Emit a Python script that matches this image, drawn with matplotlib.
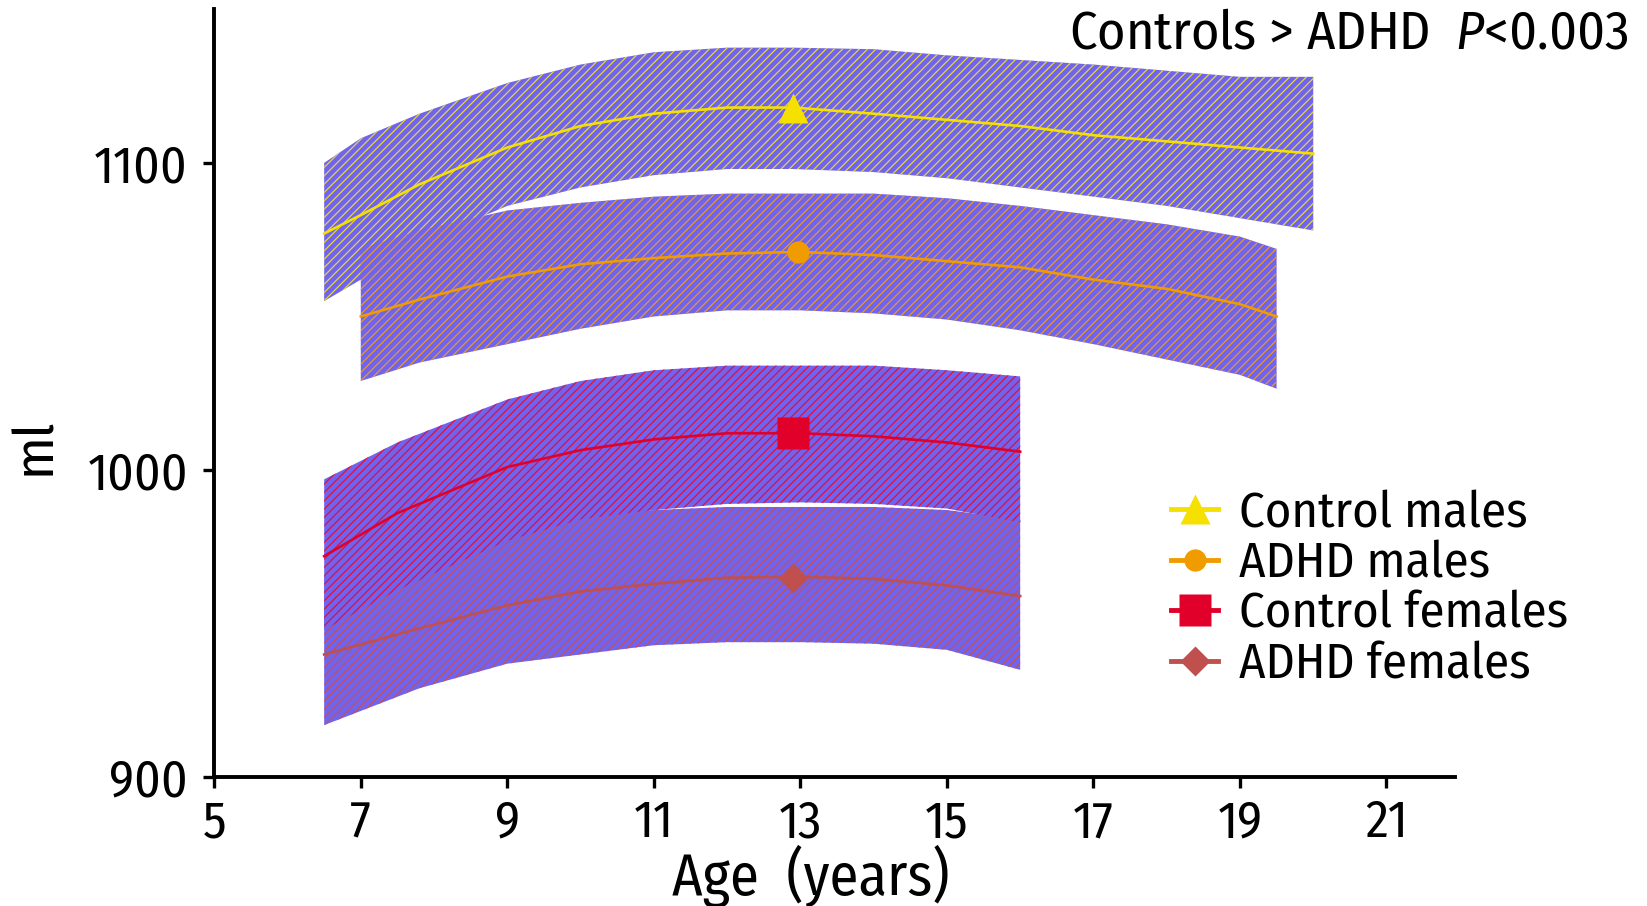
import matplotlib
matplotlib.use("Agg")
import matplotlib.pyplot as plt
from matplotlib.lines import Line2D
from matplotlib import font_manager

names = {f.name for f in font_manager.fontManager.ttflist}
fam = "Fira Sans Condensed" if "Fira Sans Condensed" in names else "Liberation Sans"
plt.rcParams['font.family'] = [fam, 'DejaVu Sans']
plt.rcParams['mathtext.fontset'] = 'custom'
plt.rcParams['mathtext.it'] = fam + ':italic'
plt.rcParams['mathtext.rm'] = fam
plt.rcParams['hatch.linewidth'] = 0.9

# ---- data ----
series_names = ["Control males", "ADHD males", "Control females", "ADHD females"]
colors = ["#F5E000", "#F09B00", "#E0002A", "#C0504D"]
hatch_colors = ["#E6D830", "#E89A20", "#E0103A", "#C85050"]
fill_color = "#6F63F0"

cm_x = [6.5, 7, 7.8, 9, 10, 11, 12, 12.9, 14, 15, 16, 17, 18, 19, 20]
cm_mean = [1077, 1083, 1093, 1105, 1112, 1116, 1118, 1118, 1116, 1114, 1112, 1109, 1107, 1105, 1103]
cm_upper = [1100, 1108, 1116, 1126, 1132, 1136, 1137.5, 1137.5, 1137, 1135, 1133.5, 1132, 1130, 1128, 1128]
cm_lower = [1055, 1062, 1074, 1086, 1092, 1096, 1098, 1098, 1097, 1095, 1092, 1089, 1086, 1082, 1078]

am_x = [7, 7.8, 9, 10, 11, 12, 13, 14, 15, 16, 17, 18, 19, 19.5]
am_mean = [1050, 1055.5, 1063, 1067, 1069, 1070.5, 1071, 1070, 1068, 1066, 1062, 1059, 1054, 1050]
am_upper = [1072, 1078, 1084.5, 1087, 1089, 1090, 1090, 1090, 1088.5, 1086, 1083, 1080, 1076, 1072]
am_lower = [1029, 1035, 1041, 1046, 1050, 1052, 1052, 1051, 1049, 1045.5, 1041, 1036, 1031, 1026.5]

cf_x = [6.5, 7.5, 9, 10, 11, 12, 13, 14, 15, 16]
cf_mean = [972, 986, 1001, 1006.5, 1010, 1012, 1012, 1011, 1009, 1006]
cf_upper = [997, 1009, 1023, 1029, 1032.5, 1034, 1034, 1034, 1032.5, 1030.5]
cf_lower = [948, 961, 977, 984, 987, 989, 989.5, 989, 987.5, 983]

af_x = [6.5, 7.8, 9, 10, 11, 12, 13, 14, 15, 16]
af_mean = [940, 948.5, 956, 960.5, 963, 965, 965.3, 964.6, 962.5, 959]
af_upper = [965.5, 975, 982, 985.5, 987, 988, 988, 988, 987, 984]
af_lower = [917, 929, 937, 940, 943, 944, 944, 943.5, 941.5, 935]

marker_x = [12.9, 12.97, 12.9, 12.9]
marker_y = [1118, 1071, 1012, 965]
markers = ["^", "o", "s", "D"]
marker_sizes = [22, 16, 23, 15]

xticks = [5, 7, 9, 11, 13, 15, 17, 19, 21]
yticks = [900, 1000, 1100]

# ---- plot ----
fig = plt.figure(figsize=(16.47, 9.06), dpi=100)
ax = fig.add_axes([0.1301, 0.1420, 0.7531, 0.8478])

bands = [(cm_x, cm_mean, cm_upper, cm_lower),
         (am_x, am_mean, am_upper, am_lower),
         (cf_x, cf_mean, cf_upper, cf_lower),
         (af_x, af_mean, af_upper, af_lower)]
band_z = [1.0, 1.1, 1.3, 1.2]
for k, (x, m, u, l) in enumerate(bands):
    ax.fill_between(x, l, u, facecolor=fill_color, edgecolor=hatch_colors[k],
                    hatch='////', linewidth=0, zorder=band_z[k])
for k, (x, m, u, l) in enumerate(bands):
    ax.plot(x, m, color=colors[k], lw=1.9, zorder=3)
for k in range(4):
    ax.plot([marker_x[k]], [marker_y[k]], marker=markers[k], color=colors[k],
            ms=marker_sizes[k], mec='none', ls='none', zorder=4)

ax.set_xlim(5, 21.93)
ax.set_ylim(900, 1150)
ax.set_xticks(xticks)
ax.set_yticks(yticks)
ax.tick_params(labelsize=37, width=2.4, length=8, direction='out')
ax.tick_params(axis='y', pad=11)
ax.tick_params(axis='x', pad=7)
for s in ['top', 'right']:
    ax.spines[s].set_visible(False)
for s in ['left', 'bottom']:
    ax.spines[s].set_linewidth(2.8)

ax.set_xlabel("Age  (years)", fontsize=42)
ax.xaxis.label.set(ha='center', va='center')
ax.xaxis.set_label_coords(0.481, -0.1295)
ax.set_ylabel("ml", fontsize=40)
ax.yaxis.label.set(ha='center', va='center', rotation_mode='default')
ax.yaxis.set_label_coords(-0.1445, 0.4313)

fig.text(0.9885, 0.9625, r"Controls > ADHD  $P$<0.003", fontsize=39, ha='right', va='center')

handles = [Line2D([], [], color=colors[k], lw=3.5, marker=markers[k], ms=marker_sizes[k],
                  mec='none') for k in range(4)]
fig.legend(handles, series_names, loc='upper left', bbox_to_anchor=(1171 / 1647, 0.4597),
           frameon=False, fontsize=36.4, handlelength=0.93, handletextpad=0.42,
           labelspacing=0.05, borderpad=0, borderaxespad=0)

fig.savefig("out.png", dpi=100)
